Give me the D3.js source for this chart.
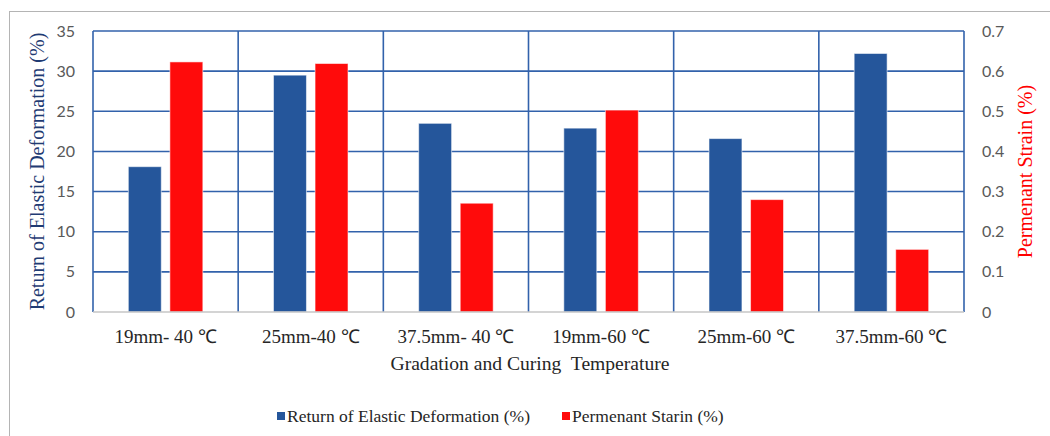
<!DOCTYPE html>
<html>
<head>
<meta charset="utf-8">
<script src="https://cdn.jsdelivr.net/npm/d3@7"></script>
<style>
  html, body { margin: 0; padding: 0; background: #fff; }
  svg { display: block; }
</style>
</head>
<body>
<svg id="chart" width="1050" height="436"></svg>
<script>
// Gradation / curing temperature groups
const categories = ["19mm- 40 ℃", "25mm-40 ℃", "37.5mm- 40 ℃", "19mm-60 ℃", "25mm-60 ℃", "37.5mm-60 ℃"];
// Left axis series (%)
const elasticReturn = [18.1, 29.5, 23.5, 22.9, 21.6, 32.2];
// Right axis series (%)
const permanentStrain = [0.623, 0.619, 0.271, 0.503, 0.280, 0.156];
const seriesNames = ["Return of Elastic Deformation (%)", "Permenant Starin (%)"];
const leftTicks = [0, 5, 10, 15, 20, 25, 30, 35];
const rightTicks = [0, 0.1, 0.2, 0.3, 0.4, 0.5, 0.6, 0.7];

const colors = { elastic: "#25569b", strain: "#ff0b0b", grid: "#3262ab" };
const serif = "'Liberation Serif', 'Times New Roman', serif";
const sans = "Lato, 'Liberation Sans', sans-serif";

const svg = d3.select("#chart");
const plot = { left: 93, right: 964, top: 31, bottom: 312 };

// outer frame
svg.append("rect")
  .attr("x", 9.5).attr("y", 11.5)
  .attr("width", 1100).attr("height", 600)
  .attr("fill", "none").attr("stroke", "#b4b4b4").attr("stroke-width", 1);

const x0 = d3.scaleBand().domain(categories).range([plot.left, plot.right]).padding(0);
const x1 = d3.scaleBand().domain(seriesNames).range([0, x0.bandwidth()])
  .paddingInner(0.207).paddingOuter(0.85);
const yL = d3.scaleLinear().domain([0, 35]).range([plot.bottom, plot.top]);
const yR = d3.scaleLinear().domain([0, 0.7]).range([plot.bottom, plot.top]);

// horizontal gridlines
svg.append("g").selectAll("line")
  .data(leftTicks.filter(d => d > 0))
  .join("line")
  .attr("x1", plot.left).attr("x2", plot.right)
  .attr("y1", d => yL(d)).attr("y2", d => yL(d))
  .attr("stroke", colors.grid).attr("stroke-width", 1.6);

// vertical category separators
const bounds = categories.map(c => x0(c)).concat([plot.right]);
svg.append("g").selectAll("line")
  .data(bounds)
  .join("line")
  .attr("x1", d => d).attr("x2", d => d)
  .attr("y1", plot.top).attr("y2", plot.bottom)
  .attr("stroke", colors.grid).attr("stroke-width", 1.6);

// bars
const rows = categories.map((c, i) => ({ c, vals: [
  { key: seriesNames[0], v: elasticReturn[i], y: yL, color: colors.elastic },
  { key: seriesNames[1], v: permanentStrain[i], y: yR, color: colors.strain }
]}));
svg.append("g").selectAll("g")
  .data(rows)
  .join("g")
  .attr("transform", d => `translate(${x0(d.c)},0)`)
  .selectAll("rect")
  .data(d => d.vals)
  .join("rect")
  .attr("x", d => x1(d.key))
  .attr("width", x1.bandwidth())
  .attr("y", d => d.y(d.v))
  .attr("height", d => plot.bottom - d.y(d.v))
  .attr("fill", d => d.color)
  .attr("stroke", "rgba(255,255,255,0.55)")
  .attr("stroke-width", 1);

// baseline
svg.append("line")
  .attr("x1", plot.left).attr("x2", plot.right)
  .attr("y1", plot.bottom).attr("y2", plot.bottom)
  .attr("stroke", "#c6c6c6").attr("stroke-width", 1.6);

// left axis labels
const axL = svg.append("g").attr("transform", `translate(${plot.left - 18},0)`)
  .call(d3.axisLeft(yL).tickValues(leftTicks).tickSize(0).tickPadding(0));
axL.select(".domain").remove();
axL.selectAll("text").attr("font-family", sans).attr("font-size", 16).attr("fill", "#595959");

// right axis labels
const axR = svg.append("g").attr("transform", `translate(${plot.right + 18},0)`)
  .call(d3.axisRight(yR).tickValues(rightTicks).tickFormat(d3.format("~g")).tickSize(0).tickPadding(0));
axR.select(".domain").remove();
axR.selectAll("text").attr("font-family", sans).attr("font-size", 16).attr("fill", "#595959");

// category labels
svg.append("g").selectAll("text")
  .data(categories)
  .join("text")
  .attr("x", d => x0(d) + x0.bandwidth() / 2)
  .attr("y", 343)
  .attr("text-anchor", "middle")
  .attr("font-family", serif).attr("font-size", 19).attr("fill", "#262626")
  .text(d => d);

// axis titles
svg.append("text")
  .attr("x", 530).attr("y", 370)
  .attr("text-anchor", "middle")
  .attr("font-family", serif).attr("font-size", 19.6).attr("fill", "#262626")
  .attr("xml:space", "preserve")
  .text("Gradation and Curing  Temperature");

svg.append("text")
  .attr("transform", `translate(44,${(plot.top + plot.bottom) / 2}) rotate(-90)`)
  .attr("text-anchor", "middle")
  .attr("font-family", serif).attr("font-size", 20).attr("fill", "#1f3b73")
  .text("Return of Elastic Deformation (%)");

svg.append("text")
  .attr("transform", `translate(1032,${(plot.top + plot.bottom) / 2}) rotate(-90)`)
  .attr("text-anchor", "middle")
  .attr("font-family", serif).attr("font-size", 20).attr("fill", "#ff0000")
  .text("Permenant Strain (%)");

// legend
const legendItems = [
  { name: seriesNames[0], color: colors.elastic, x: 277 },
  { name: seriesNames[1], color: colors.strain, x: 562 }
];
const lg = svg.append("g").selectAll("g")
  .data(legendItems)
  .join("g")
  .attr("transform", d => `translate(${d.x},416)`);
lg.append("rect").attr("x", 0).attr("y", -4).attr("width", 8).attr("height", 8).attr("fill", d => d.color);
lg.append("text").attr("x", 10).attr("y", 6)
  .attr("font-family", serif).attr("font-size", 17.5).attr("fill", "#262626")
  .text(d => d.name);
</script>
</body>
</html>
